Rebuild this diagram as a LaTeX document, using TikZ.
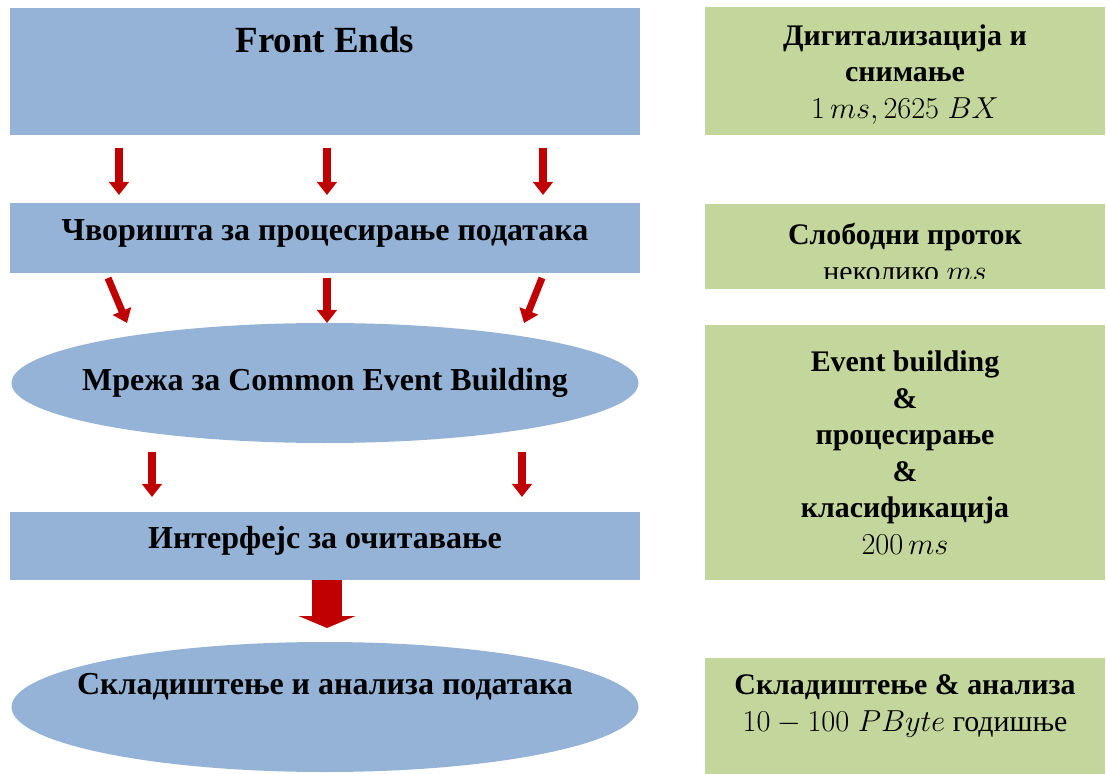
\documentclass[tikz,border=0pt]{standalone}
\usepackage{fontspec}
\setmainfont{Liberation Serif}
\usepackage{xcolor}
\usetikzlibrary{arrows.meta, shapes.geometric, calc, positioning}
\definecolor{boxblue}{HTML}{95B3D7}
\definecolor{boxgreen}{HTML}{C3D69B}
\definecolor{arrowred}{HTML}{C00000}
\tikzset{> = { Triangle[width = 11pt, length = 7.4pt] }}

\begin{document}
\begin{tikzpicture}[
		bluebox/.style = { fill = boxblue, rectangle, minimum width = 12.6cm, inner sep = 0pt, outer sep = 0pt },
		blueoval/.style = { fill = boxblue, ellipse, minimum width = 12.54cm, inner sep = 0pt, outer sep = 0pt },
		greenbox/.style = { fill = boxgreen, rectangle, minimum width = 8cm, inner sep = 0pt, outer sep = 0pt },
		lbl/.style = { font = \fontsize{18.2}{21}\selectfont\bfseries },
		glbl/.style = { align = center, font = \fontsize{17}{20.8}\selectfont },
		redarrow/.style = { ->, draw = arrowred, line width = 4pt },
		bigarrow/.style = { -{Triangle[width = 32pt, length = 6.8pt]}, draw = arrowred, line width = 17pt }]
		\useasboundingbox (0,0) rectangle (22.12,-15.48);

		% left column
		\node [bluebox, minimum height = 2.54cm, anchor = north west] (fe) at (0.2,-0.16) {};
		\node [bluebox, minimum height = 1.4cm, below = 1.36 of fe]    (cvor) {};
		\node [blueoval, minimum height = 2.4cm, below = 1.0 of cvor]  (mreza) {};
		\node [bluebox, minimum height = 1.36cm, below = 1.38 of mreza] (intf) {};
		\node [blueoval, minimum height = 2.6cm, below = 1.24 of intf]  (skl) {};

		\node [font = \fontsize{21}{25}\selectfont\bfseries] (fetxt) at ($(fe.north)+(0,-0.64)$) {Front Ends};
		\node [lbl] (cvortxt)  at ($(cvor.center)+(0,0.1)$)  {Чворишта за процесирање података};
		\node [lbl] (mrezatxt) at (mreza.center)            {Мрежа за Common Event Building};
		\node [lbl] (intftxt)  at ($(intf.center)+(0,0.1)$)  {Интерфејс за очитавање};
		\node [lbl] (skltxt)   at ($(skl.center)+(0,0.4)$)   {Складиштење и анализа података};

		% right column
		\node [greenbox, minimum height = 2.56cm, right = 1.3 of fe] (g1) {};
		\node [greenbox, minimum height = 1.7cm, right = 1.3 of cvor, yshift = -0.17cm] (g2) {};
		\node [greenbox, minimum height = 5.1cm, below = 0.72 of g2] (g3) {};
		\node [greenbox, minimum height = 2.32cm, below = 1.56 of g3] (g4) {};

		\node [glbl] (g1txt) at ($(g1.center)+(0,-0.06)$) {\textbf{Дигитализација и}\\ \textbf{снимање}\\ $1\,ms, 2625\;BX$};
		\begin{scope}
			\clip (g2.north west) rectangle ($(g2.south east)+(0,0.2)$);
			\node [glbl] (g2txt) at ($(g2.center)+(0,-0.12)$) {\textbf{Слободни проток}\\ неколико $ms$};
		\end{scope}
		\node [glbl] (g3txt) at (g3.center) {\textbf{Event building}\\ \textbf{\&}\\ \textbf{процесирање}\\ \textbf{\&}\\ \textbf{класификација}\\ $200\,ms$};
		\node [glbl] (g4txt) at ($(g4.center)+(0,0.2)$) {\textbf{Складиштење \& анализа}\\ $10-100\;PByte$ годишње};

		% arrows
		\foreach \x in {2.18, 6.34, 10.66}
			\draw [redarrow] ($(fe.south west)+(\x,-0.26)$) -- ($(cvor.north west)+(\x,0.16)$);

		\draw [redarrow] ($(cvor.south west)+(1.96,-0.1)$)  -- ($(cvor.south west)+(2.34,-1.0)$);
		\draw [redarrow] ($(cvor.south west)+(6.34,-0.1)$)  -- ($(cvor.south west)+(6.34,-1.0)$);
		\draw [redarrow] ($(cvor.south west)+(10.64,-0.1)$) -- ($(cvor.south west)+(10.28,-1.0)$);

		\foreach \x in {2.84, 10.24}
			\draw [redarrow] ($(intf.north west)+(\x,1.2)$) -- ($(intf.north west)+(\x,0.3)$);

		\draw [bigarrow] ($(intf.south)+(0.04,0)$) -- ($(intf.south)+(0.04,-0.96)$);
	\end{tikzpicture}
\end{document}
